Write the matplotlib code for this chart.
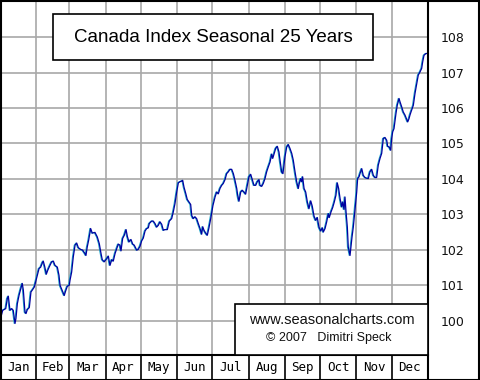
import matplotlib
matplotlib.use("Agg")
import matplotlib.pyplot as plt
import matplotlib.transforms as mtransforms
from matplotlib.patches import Rectangle
import numpy as np

# ---- data -------------------------------------------------------------
day = [0, 2.3, 3.4, 4.9, 6.2, 7.1, 8.5, 10.0, 11.3, 12.8, 13.6, 14.8, 16.2, 17.7, 19.0, 19.9,
       21.3, 22.2, 23.3, 25.0, 26.4, 27.5, 29.3, 30.4, 31.8, 33.3, 34.7, 36.1, 36.9, 38.1,
       39.5, 40.7, 42.6, 44.1, 45.5, 46.9, 48.9, 50.3, 51.2, 52.9, 54.8, 56.0, 57.4, 59.1,
       59.7, 61.1, 62.5, 64.0, 65.4, 66.8, 68.8, 70.5, 72.5, 73.3, 74.4, 75.6, 77.3, 78.7,
       81.0, 83.0, 84.7, 85.9, 87.2, 88.9, 91.0, 92.4, 93.8, 95.3, 96.6, 98.1, 99.5, 100.9,
       102.3, 103.2, 104.6, 106.0, 107.5, 108.6, 110.0, 111.7, 113.2, 114.5, 116.6, 117.9,
       119.4, 120.8, 122.2, 123.7, 125.1, 126.5, 127.3, 129.4, 130.7, 132.2, 133.6, 135.0,
       136.4, 137.9, 139.3, 140.7, 142.7, 144.4, 146.4, 147.8, 149.2, 150.7, 152.1, 153.5,
       155.0, 155.8, 156.9, 158.4, 159.7, 161.2, 162.6, 163.5, 164.8, 166.3, 167.7, 169.1,
       170.6, 172.0, 172.9, 174.0, 175.4, 176.8, 178.2, 179.7, 181.6, 183.4, 184.8, 186.2,
       187.6, 189.1, 190.4, 191.9, 193.3, 194.7, 196.1, 197.6, 199.0, 200.4, 201.9, 202.7,
       203.8, 205.3, 206.6, 208.1, 209.5, 210.9, 212.3, 213.8, 215.2, 216.6, 218.1, 219.4,
       220.9, 221.7, 223.2, 224.5, 226.0, 227.4, 228.8, 230.3, 231.7, 232.6, 233.7, 235.1,
       236.5, 237.9, 238.8, 240.2, 241.3, 243.0, 244.5, 245.9, 247.3, 248.8, 250.1, 251.6,
       253.0, 254.4, 255.2, 256.4, 257.3, 258.1, 259.3, 260.7, 262.1, 263.5, 265.0, 266.3,
       267.8, 269.2, 270.6, 272.0, 273.5, 274.9, 275.7, 277.2, 278.6, 280.0, 280.8, 282.3,
       283.7, 285.1, 286.5, 287.6, 288.8, 290.0, 291.4, 292.3, 293.4, 294.2, 295.1, 296.2,
       297.0, 297.9, 298.5, 299.3, 300.2, 301.3, 302.7, 304.2, 305.0, 306.2, 307.0, 308.5,
       309.8, 311.3, 312.7, 314.1, 315.5, 317.0, 318.4, 319.8, 321.2, 322.6, 324.1, 325.5,
       326.9, 328.3, 329.8, 330.6, 332.0, 333.2, 334.0, 334.9, 336.0, 336.9, 337.7, 338.8,
       340.3, 341.1, 342.6, 343.9, 345.4, 346.8, 347.7, 348.8, 349.6, 350.5, 351.6, 352.5,
       353.9, 355.4, 356.7, 358.2, 359.6, 360.5, 361.6, 363.3, 364.4]

value = [100.00, 100.29, 100.31, 100.34, 100.62, 100.69, 100.29, 100.34, 100.29, 99.92, 100.06,
         100.48, 100.71, 100.90, 101.05, 100.86, 100.24, 100.20, 100.31, 100.37, 100.81, 100.86,
         100.95, 101.09, 101.28, 101.47, 101.51, 101.63, 101.68, 101.53, 101.31, 101.42, 101.56,
         101.66, 101.68, 101.56, 101.51, 101.28, 101.00, 100.86, 100.71, 100.84, 100.97, 101.00,
         101.14, 101.37, 101.80, 102.13, 102.19, 102.06, 102.01, 101.99, 101.89, 101.84, 102.08,
         102.27, 102.60, 102.47, 102.49, 102.36, 102.17, 101.94, 101.72, 101.66, 101.75, 101.82,
         101.56, 101.72, 101.68, 101.89, 102.03, 102.16, 102.13, 101.97, 102.32, 102.41, 102.57,
         102.38, 102.22, 102.29, 102.16, 102.13, 101.99, 102.01, 102.10, 102.25, 102.33, 102.53,
         102.60, 102.62, 102.74, 102.81, 102.81, 102.74, 102.64, 102.69, 102.79, 102.72, 102.55,
         102.57, 102.57, 102.81, 102.88, 103.07, 103.30, 103.63, 103.89, 103.92, 103.94, 103.96,
         103.77, 103.59, 103.42, 103.35, 103.28, 102.97, 102.88, 102.93, 102.88, 102.74, 102.60,
         102.44, 102.65, 102.55, 102.47, 102.41, 102.62, 102.88, 103.25, 103.49, 103.63, 103.58,
         103.73, 103.82, 103.87, 103.98, 104.15, 104.20, 104.27, 104.27, 104.15, 103.96, 103.73,
         103.54, 103.37, 103.63, 103.68, 103.63, 103.57, 103.82, 104.06, 104.13, 103.98, 103.82,
         103.82, 103.92, 103.98, 103.82, 103.79, 103.87, 104.01, 104.20, 104.34, 104.48, 104.70,
         104.58, 104.70, 104.86, 104.92, 104.76, 104.53, 104.20, 104.15, 104.62, 104.90, 104.97,
         104.86, 104.72, 104.53, 104.20, 103.92, 103.73, 103.87, 104.01, 103.92, 104.06, 103.73,
         103.63, 103.35, 103.16, 103.38, 103.23, 102.95, 102.83, 102.91, 102.64, 102.53, 102.62,
         102.50, 102.60, 102.79, 103.02, 102.91, 103.07, 103.19, 103.35, 103.54, 103.89, 103.73,
         103.45, 103.21, 103.35, 103.14, 103.49, 103.07, 102.64, 102.08, 101.94, 101.84, 102.08,
         102.36, 102.64, 103.12, 103.63, 104.01, 104.06, 104.15, 104.29, 104.10, 104.04, 104.02,
         104.01, 104.20, 104.27, 104.10, 104.04, 104.04, 104.39, 104.58, 104.72, 105.14, 105.17,
         105.09, 104.92, 104.90, 104.81, 105.14, 105.33, 105.42, 105.66, 105.85, 106.08, 106.27,
         106.18, 106.03, 105.89, 105.80, 105.68, 105.61, 105.70, 105.80, 105.89, 105.99, 106.08,
         106.41, 106.69, 106.93, 107.02, 107.12, 107.31, 107.49, 107.54, 107.54]

months = ["Jan", "Feb", "Mar", "Apr", "May", "Jun", "Jul", "Aug", "Sep", "Oct", "Nov", "Dec"]
month_days = [31, 28, 31, 30, 31, 30, 31, 31, 30, 31, 30, 31]
y_ticks = [100, 101, 102, 103, 104, 105, 106, 107, 108]
title = "Canada Index Seasonal 25 Years"
credit1 = "www.seasonalcharts.com"
credit2 = "\u00a9 2007   Dimitri Speck"

# ---- figure -----------------------------------------------------------
W, H = 480, 380
fig = plt.figure(figsize=(W / 100, H / 100), dpi=100)
fig.patch.set_facecolor("white")

bounds = np.concatenate([[0], np.cumsum(month_days)])
mids = (bounds[:-1] + bounds[1:]) / 2

plot_right = 428 / W
row_h = 25 / H
ax = fig.add_axes([0, row_h, plot_right, 1 - row_h])
ax.set_xlim(0, 365)
ax.set_ylim(99.03, 109.05)
for s in ax.spines.values():
    s.set_visible(False)
ax.set_xticks([])
ax.set_yticks(y_ticks)
ax.set_yticklabels([str(t) for t in y_ticks])
ax.tick_params(axis="y", left=False, labelleft=False, right=False, labelright=True,
               length=0, pad=9, labelsize=9, labelcolor="#111111")
for lab in ax.get_yticklabels():
    lab.set_fontfamily("DejaVu Sans")

grid_col = "#a8a8a8"
for b in bounds[1:-1]:
    ax.axvline(b, color=grid_col, lw=1.2, zorder=1)
for t in y_ticks:
    ax.axhline(t, color=grid_col, lw=1.2, zorder=1)

shift = mtransforms.ScaledTranslation(-0.8 / 100, 0, fig.dpi_scale_trans)
ax.plot(day, value, color="#20a8c8", lw=0.8, zorder=3,
        transform=ax.transData + shift)
ax.plot(day, value, color="#0000a0", lw=0.9, zorder=4)

# month label row
axm = fig.add_axes([0, 0, plot_right, row_h])
axm.set_xlim(0, 365)
axm.set_ylim(0, 1)
axm.axis("off")
for b in bounds[1:-1]:
    axm.axvline(b, color="black", lw=1.2)
for m, x in zip(months, mids):
    axm.text(x, 0.5, m, ha="center", va="center", fontsize=9,
             family="DejaVu Sans Mono", color="black")

# lines: plot bottom, plot right, outer border
fig.add_artist(plt.Line2D([0, plot_right], [row_h, row_h], transform=fig.transFigure,
                          color="black", lw=1.5))
fig.add_artist(plt.Line2D([plot_right, plot_right], [0, 1], transform=fig.transFigure,
                          color="black", lw=1.5))
fig.add_artist(Rectangle((0.5 / W, 0.5 / H), 1 - 1.5 / W, 1 - 1.5 / H,
                         transform=fig.transFigure, fill=False, ec="black", lw=1.5))

# title box
fig.add_artist(Rectangle((53 / W, 1 - 60 / H), 320 / W, 46 / H, transform=fig.transFigure,
                         fc="white", ec="black", lw=1.2, zorder=10))
fig.text(213.5 / W, 1 - 37 / H, title, ha="center", va="center", fontsize=13.5,
         family="Liberation Sans", color="black", zorder=11)

# credit box
fig.add_artist(Rectangle((235 / W, row_h), (428 - 235) / W, (354.7 - 304) / H,
                         transform=fig.transFigure, fc="white", ec="black", lw=1.2,
                         zorder=10))
fig.text(331.5 / W, 1 - 320 / H, credit1, ha="center", va="center", fontsize=10.5,
         family="Liberation Sans", color="#111111", zorder=11)
fig.text(329 / W, 1 - 338.5 / H, credit2, ha="center", va="center", fontsize=9,
         family="Liberation Sans", color="#111111", zorder=11)

fig.savefig("out.png", dpi=100, facecolor="white")
